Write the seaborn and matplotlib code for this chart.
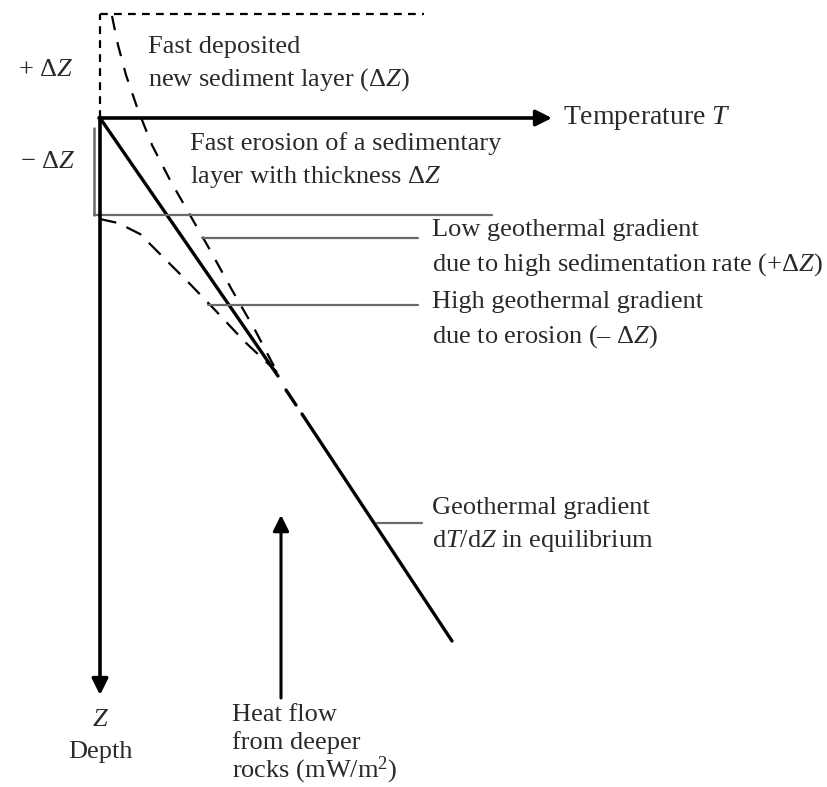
import matplotlib
matplotlib.use("Agg")
import matplotlib.pyplot as plt
import seaborn as sns

# Temperature (T) / depth (Z) in arbitrary diagram units, surface at (0, 0)
eq_upper_T = [0, 178]
eq_upper_Z = [0, 258]
eq_gap_T = [186, 196]
eq_gap_Z = [272, 287]
eq_lower_T = [202, 352]
eq_lower_Z = [296, 523]

# low gradient after fast sedimentation (+dZ)
low_T = [12, 18, 26, 38, 52, 70, 90, 110, 132, 155, 177]
low_Z = [-102, -73, -43, -8, 27, 62, 97, 132, 172, 212, 254]

# high gradient after erosion (-dZ)
high_T = [0, 18, 40, 65, 90, 115, 145, 177]
high_Z = [101, 105, 116, 141, 166, 192, 224, 254]

new_layer_top = -104     # top of new sediment layer
new_layer_right = 324
eroded_base = 97         # base of eroded layer
eroded_right = 392

sns.set_style("white")
plt.rcParams["font.family"] = ["Liberation Serif", "DejaVu Serif"]
plt.rcParams["mathtext.fontset"] = "custom"
plt.rcParams["mathtext.rm"] = "Liberation Serif"
plt.rcParams["mathtext.it"] = "Liberation Serif:italic"

fig = plt.figure(figsize=(8.28, 7.87), dpi=100)
ax = fig.add_axes([0, 0, 1, 1])
ax.set_xlim(-100, 728)
ax.set_ylim(669, -118)
ax.axis("off")

txt = "#2a2a2a"
grey = "#6a6a6a"
fs = 19

# equilibrium gradient
for tt, zz in [(eq_upper_T, eq_upper_Z), (eq_gap_T, eq_gap_Z), (eq_lower_T, eq_lower_Z)]:
    sns.lineplot(x=tt, y=zz, ax=ax, color="black", lw=2.4, sort=False, estimator=None)

# perturbed gradients
sns.lineplot(x=low_T, y=low_Z, ax=ax, color="black", lw=1.6, sort=False, estimator=None,
             linestyle=(0, (6.5, 5.5)))
sns.lineplot(x=high_T, y=high_Z, ax=ax, color="black", lw=1.6, sort=False, estimator=None,
             linestyle=(0, (7.5, 5)))

# new sediment layer box (dashed)
ax.plot([0, 0], [0, new_layer_top], color="black", lw=1.6, linestyle=(0, (3.5, 2.8)))
ax.plot([0, new_layer_right], [new_layer_top, new_layer_top], color="black", lw=1.6,
        linestyle=(0, (3.5, 2.8)))

# eroded layer bracket
ax.plot([-6, -6], [10, eroded_base], color=grey, lw=1.8)
ax.plot([-6, eroded_right], [eroded_base, eroded_base], color=grey, lw=1.6)

# axes arrows
arr = dict(arrowstyle="-|>", lw=2.6, color="black", mutation_scale=24, shrinkA=0, shrinkB=0)
ax.annotate("", xy=(452, 0), xytext=(-1, 0), arrowprops=arr)
ax.annotate("", xy=(0, 577), xytext=(0, -1), arrowprops=arr)
ax.annotate("", xy=(181, 397), xytext=(181, 580), arrowprops=dict(arr, lw=2.2))

# leader lines
ax.plot([102, 318], [120, 120], color=grey, lw=1.6)
ax.plot([108, 318], [187, 187], color=grey, lw=1.6)
ax.plot([277, 322], [405, 405], color=grey, lw=1.6)

# labels
ax.text(-82, -48, "+ Δ$Z$", fontsize=fs, color=txt, va="center")
ax.text(-80, 44, "− Δ$Z$", fontsize=fs, color=txt, va="center")
ax.text(48, -71, "Fast deposited", fontsize=fs, color=txt, va="center")
ax.text(48, -38, "new sediment layer (Δ$Z$)", fontsize=fs, color=txt, va="center")
ax.text(463, 0, "Temperature $T$", fontsize=fs + 1, color=txt, va="center")
ax.text(90, 26, "Fast erosion of a sedimentary", fontsize=fs, color=txt, va="center")
ax.text(90, 59, "layer with thickness Δ$Z$", fontsize=fs, color=txt, va="center")
ax.text(332, 112, "Low geothermal gradient", fontsize=fs, color=txt, va="center")
ax.text(332, 147, "due to high sedimentation rate (+Δ$Z$)", fontsize=fs, color=txt, va="center")
ax.text(332, 184, "High geothermal gradient", fontsize=fs, color=txt, va="center")
ax.text(332, 219, "due to erosion (– Δ$Z$)", fontsize=fs, color=txt, va="center")
ax.text(332, 390, "Geothermal gradient", fontsize=fs, color=txt, va="center")
ax.text(332, 423, "d$T$/d$Z$ in equilibrium", fontsize=fs, color=txt, va="center")
ax.text(0, 602, "$Z$", fontsize=fs, color=txt, va="center", ha="center")
ax.text(0, 634, "Depth", fontsize=fs, color=txt, va="center", ha="center")
ax.text(132, 597, "Heat flow", fontsize=fs, color=txt, va="center")
ax.text(132, 625, "from deeper", fontsize=fs, color=txt, va="center")
ax.text(132, 652, "rocks (mW/m$^2$)", fontsize=fs, color=txt, va="center")

fig.savefig("out.png", dpi=100, facecolor="white")
